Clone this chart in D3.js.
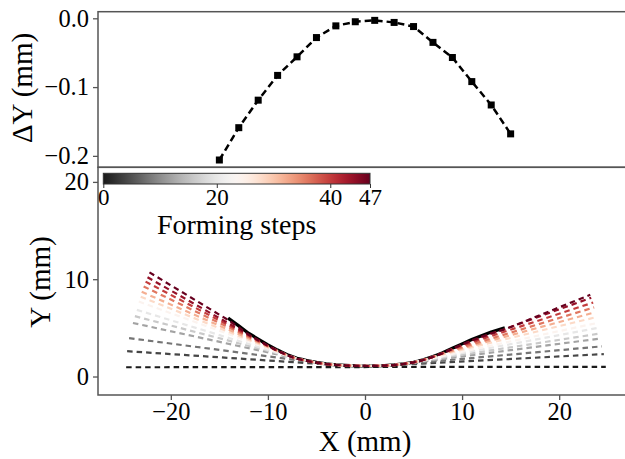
<!DOCTYPE html>
<html>
<head>
<meta charset="utf-8">
<script src="https://cdn.jsdelivr.net/npm/d3@7"></script>
<style>
  html, body { margin: 0; padding: 0; background: #fff; }
  svg { display: block; }
  text { font-family: "Liberation Serif", "Times New Roman", serif; fill: #000; }
</style>
</head>
<body>
<svg id="chart" width="625" height="459"></svg>
<script>
// ---- Deviation of the formed part from the target (top panel) ----
const devX = [-15, -13, -11, -9, -7, -5, -3, -1, 1, 3, 5, 7, 9, 11, 13, 15];
const devY = [-0.206, -0.159, -0.119, -0.083, -0.056, -0.028, -0.011, -0.005,
              -0.003, -0.006, -0.012, -0.035, -0.057, -0.092, -0.126, -0.168];

// ---- Target profile (solid black) ----
const profileX = [-14.1, -13, -12, -11, -10, -9, -8.5, -8, -7.5, -7, -6.5, -6, -5, -4, -3, -2, -1,
                  0.5, 2, 3, 4, 5, 5.5, 6, 7, 7.5, 8, 9, 10, 11, 12, 13, 14.4];
const targetY  = [6.0, 5.2, 4.45, 3.85, 3.25, 2.72, 2.48, 2.25, 2.05, 1.88, 1.76, 1.65, 1.45, 1.3, 1.2, 1.14, 1.1,
                  1.08, 1.12, 1.19, 1.3, 1.47, 1.58, 1.72, 2.05, 2.25, 2.45, 2.9, 3.35, 3.8, 4.2, 4.58, 5.0];
// bent region of the plate, as formed
const formedY  = [5.81, 5.04, 4.31, 3.73, 3.15, 2.64, 2.41, 2.18, 1.99, 1.82, 1.72, 1.61, 1.42, 1.28, 1.19, 1.13, 1.1,
                  1.08, 1.12, 1.18, 1.29, 1.46, 1.56, 1.69, 2.02, 2.21, 2.4, 2.84, 3.28, 3.71, 4.09, 4.45, 4.84];

// ---- Plate shape after selected forming steps ----
const steps      = [0, 4, 8, 12, 16, 20, 24, 28, 32, 36, 40, 44, 47];
const leftEndX   = [-24.6, -24.5, -24.3, -23.9, -23.7, -23.5, -23.3, -23.1, -23.0, -22.8, -22.6, -22.4, -22.2];
const leftEndY   = [0.95, 2.6, 3.95, 5.5, 6.2, 6.85, 7.7, 8.2, 8.7, 9.25, 9.75, 10.2, 10.7];
const rightEndX  = [24.8, 24.6, 24.4, 24.2, 24.1, 24.0, 23.9, 23.8, 23.7, 23.6, 23.5, 23.3, 23.2];
const rightEndY  = [1.0, 2.3, 3.1, 3.9, 4.4, 5.0, 5.5, 6.1, 6.6, 7.1, 7.6, 8.1, 8.4];
// extent of the bent zone for each step (null: still flat)
const kneeLeftX  = [null, -3, -5, -6, -6.5, -7, -7.5, -8, -8.5, -9, -10, -11, -14.1];
const kneeRightX = [null, 2, 3, 4, 5, 5.5, 6, 7, 7.5, 8, 9, 10, 14.4];

const xTicks = [-20, -10, 0, 10, 20];
const dyTicks = [0.0, -0.1, -0.2];
const yTicks = [0, 10, 20];
const cbTicks = [0, 20, 40, 47];
const maxStep = 47;

// ---- Layout ----
const svg = d3.select("#chart");
const L = 98, R = 632;
const topT = 11.7, topB = 167.3, botB = 395;

const x = d3.scaleLinear().domain([-27.5, 27.5]).range([L, R]);
const yTop = d3.scaleLinear().domain([-0.2166, 0.0096]).range([topB, topT]);
const yBot = d3.scaleLinear().domain([-1.9, 21.5]).range([botB, topB]);
const color = s => d3.interpolateRdGy(1 - s / maxStep);
const fmt = v => (v < 0 ? "\u2212" : "") + Math.abs(v);

svg.append("defs").append("clipPath").attr("id", "clipBot")
  .append("rect").attr("x", L).attr("y", topB).attr("width", R - L).attr("height", botB - topB);
svg.select("defs").append("clipPath").attr("id", "clipTop")
  .append("rect").attr("x", L).attr("y", topT).attr("width", R - L).attr("height", topB - topT);

const spine = "#555";
const tickFont = 24.5;

// ---- Top panel ----
const gTop = svg.append("g");
const topPlot = gTop.append("g").attr("clip-path", "url(#clipTop)");
const devPts = devX.map((d, i) => [d, devY[i]]);
topPlot.append("path")
  .attr("d", d3.line().x(d => x(d[0])).y(d => yTop(d[1]))(devPts))
  .attr("fill", "none").attr("stroke", "#000").attr("stroke-width", 2.5)
  .attr("stroke-dasharray", "7,4");
topPlot.selectAll("rect.m").data(devPts).join("rect")
  .attr("x", d => x(d[0]) - 3.5).attr("y", d => yTop(d[1]) - 3.5)
  .attr("width", 7).attr("height", 7).attr("fill", "#000");

const axTop = gTop.append("g").attr("transform", `translate(${L},0)`)
  .call(d3.axisLeft(yTop).tickValues(dyTicks).tickSize(5).tickSizeOuter(0)
    .tickFormat(d => d === 0 ? "0.0" : fmt(d.toFixed(1))));
axTop.select(".domain").remove();
axTop.selectAll(".tick line").attr("stroke", spine).attr("stroke-width", 1.3);
axTop.selectAll(".tick text").attr("font-size", tickFont).attr("x", -9)
  .attr("font-family", "Liberation Serif");
gTop.append("rect").attr("x", L).attr("y", topT).attr("width", R - L).attr("height", topB - topT)
  .attr("fill", "none").attr("stroke", spine).attr("stroke-width", 1.5);

// ---- Bottom panel ----
const gBot = svg.append("g");
const botPlot = gBot.append("g").attr("clip-path", "url(#clipBot)");

const line = d3.line().x(d => x(d[0])).y(d => yBot(d[1]));

// target profile
botPlot.append("path")
  .attr("d", line(profileX.map((px, i) => [px, targetY[i]])))
  .attr("fill", "none").attr("stroke", "#000").attr("stroke-width", 3.2)
  .attr("stroke-linejoin", "round");

// plate after each step
steps.forEach((s, i) => {
  let pts = [[leftEndX[i], leftEndY[i]]];
  if (kneeLeftX[i] !== null) {
    profileX.forEach((px, j) => {
      if (px >= kneeLeftX[i] && px <= kneeRightX[i]) pts.push([px, formedY[j]]);
    });
  }
  pts.push([rightEndX[i], rightEndY[i]]);
  botPlot.append("path")
    .attr("d", line(pts))
    .attr("fill", "none").attr("stroke", color(s)).attr("stroke-width", 2.2)
    .attr("stroke-dasharray", "5.5,4");
});

const axX = gBot.append("g").attr("transform", `translate(0,${botB})`)
  .call(d3.axisBottom(x).tickValues(xTicks).tickSize(5).tickSizeOuter(0).tickFormat(fmt));
axX.select(".domain").remove();
axX.selectAll(".tick line").attr("stroke", spine).attr("stroke-width", 1.3);
axX.selectAll(".tick text").attr("font-size", tickFont).attr("y", 8)
  .attr("font-family", "Liberation Serif");

const axY = gBot.append("g").attr("transform", `translate(${L},0)`)
  .call(d3.axisLeft(yBot).tickValues(yTicks).tickSize(5).tickSizeOuter(0).tickFormat(fmt));
axY.select(".domain").remove();
axY.selectAll(".tick line").attr("stroke", spine).attr("stroke-width", 1.3);
axY.selectAll(".tick text").attr("font-size", tickFont).attr("x", -9)
  .attr("font-family", "Liberation Serif");

gBot.append("rect").attr("x", L).attr("y", topB).attr("width", R - L).attr("height", botB - topB)
  .attr("fill", "none").attr("stroke", spine).attr("stroke-width", 1.5);

// ---- Colorbar ----
const cb = d3.scaleLinear().domain([0, maxStep]).range([103.3, 370]);
const cbY = 173.3, cbH = 10.7;
const grad = svg.select("defs").append("linearGradient").attr("id", "cbGrad")
  .attr("x1", "0%").attr("x2", "100%").attr("y1", "0%").attr("y2", "0%");
d3.range(0, 1.0001, 0.02).forEach(t => {
  grad.append("stop").attr("offset", (t * 100) + "%").attr("stop-color", color(t * maxStep));
});
const gCb = svg.append("g");
gCb.append("rect").attr("x", cb(0)).attr("y", cbY).attr("width", cb(maxStep) - cb(0)).attr("height", cbH)
  .attr("fill", "url(#cbGrad)").attr("stroke", "#333").attr("stroke-width", 1);
const axCb = gCb.append("g").attr("transform", `translate(0,${cbY + cbH})`)
  .call(d3.axisBottom(cb).tickValues(cbTicks).tickSize(4).tickSizeOuter(0).tickFormat(d3.format("d")));
axCb.select(".domain").remove();
axCb.selectAll(".tick line").attr("stroke", "#333");
axCb.selectAll(".tick text").attr("font-size", 23).attr("y", 5)
  .attr("font-family", "Liberation Serif");
gCb.append("text").attr("x", (cb(0) + cb(maxStep)) / 2).attr("y", 234)
  .attr("text-anchor", "middle").attr("font-size", 28).text("Forming steps");

// ---- Axis titles ----
svg.append("text").attr("transform", "translate(32,88) rotate(-90)")
  .attr("text-anchor", "middle").attr("font-size", 29).text("\u0394Y (mm)");
svg.append("text").attr("transform", "translate(50,282) rotate(-90)")
  .attr("text-anchor", "middle").attr("font-size", 29).text("Y (mm)");
svg.append("text").attr("x", x(0)).attr("y", 451)
  .attr("text-anchor", "middle").attr("font-size", 29).text("X (mm)");
</script>
</body>
</html>
